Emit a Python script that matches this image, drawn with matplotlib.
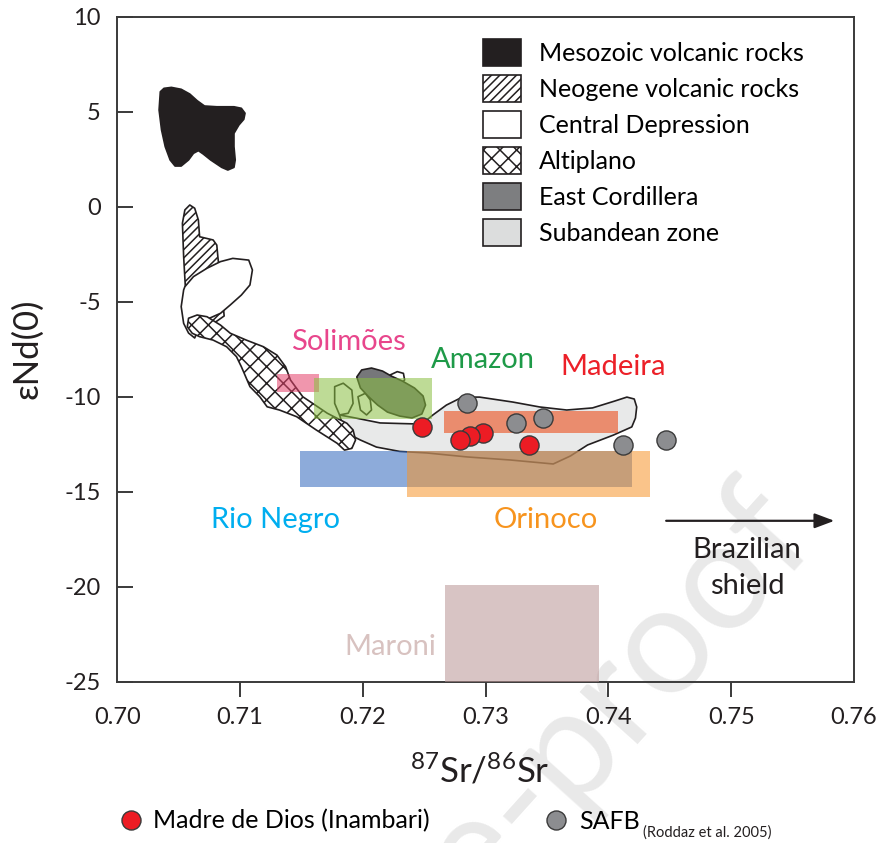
import matplotlib
matplotlib.use("Agg")
import matplotlib.pyplot as plt
from matplotlib.patches import Polygon, Rectangle, Patch
from matplotlib.lines import Line2D

plt.rcParams['font.family'] = ['Lato', 'DejaVu Sans']
plt.rcParams['mathtext.default'] = 'regular'
plt.rcParams['axes.unicode_minus'] = False
plt.rcParams['hatch.linewidth'] = 1.1

INK = '#231f20'

# field outlines as (87Sr/86Sr, eNd(0)) vertices
mesozoic = [(0.7035, 6.05), (0.7038, 6.23), (0.7044, 6.28), (0.7052, 6.18), (0.7059, 5.93),
            (0.7065, 5.58), (0.7071, 5.30), (0.7081, 5.26), (0.7095, 5.26), (0.7101, 5.18),
            (0.7104, 4.92), (0.7103, 4.60), (0.7099, 4.30), (0.7095, 3.86), (0.7095, 3.16),
            (0.7096, 2.46), (0.7095, 2.07), (0.7090, 1.93), (0.7085, 2.07), (0.7076, 2.46),
            (0.7070, 2.77), (0.7066, 2.95), (0.7062, 2.81), (0.7058, 2.46), (0.7052, 2.14),
            (0.7047, 2.14), (0.7043, 2.46), (0.7039, 3.16), (0.7036, 4.04), (0.7034, 5.09)]
neogene = [(0.7059, 0.09), (0.7063, -0.08), (0.7066, -0.70), (0.7067, -1.58), (0.7078, -1.75),
           (0.7081, -2.02), (0.7082, -2.72), (0.7085, -4.38), (0.7087, -5.75), (0.7080, -6.07),
           (0.7063, -5.96), (0.7056, -4.91), (0.7054, -2.63), (0.7053, -0.87), (0.7055, -0.17)]
central_dep = [(0.7055, -4.21), (0.7062, -3.68), (0.7073, -3.24), (0.7084, -2.89), (0.7094, -2.72),
               (0.7107, -2.81), (0.7110, -3.33), (0.7108, -4.12), (0.7101, -4.65), (0.7092, -5.17),
               (0.7084, -5.61), (0.7075, -5.87), (0.7067, -6.28), (0.7063, -6.91), (0.7058, -6.65),
               (0.7054, -6.14), (0.7052, -5.26), (0.7054, -4.38)]
central_dep_small = [
    [(0.7177, -9.47), (0.7184, -9.29), (0.7191, -9.65), (0.7192, -10.35), (0.7188, -10.87),
     (0.7181, -10.96), (0.7177, -10.35)],
    [(0.7196, -10.00), (0.7202, -9.82), (0.7206, -10.17), (0.7207, -10.70), (0.7203, -10.96),
     (0.7198, -10.70)],
    [(0.7222, -8.86), (0.7228, -8.68), (0.7233, -8.77), (0.7234, -9.12), (0.7230, -9.38)],
]
altiplano = [(0.7058, -5.87), (0.7065, -5.70), (0.7073, -5.79), (0.7084, -6.23), (0.7092, -6.66),
             (0.7105, -7.02), (0.7119, -7.37), (0.7130, -7.81), (0.7137, -8.42), (0.7141, -9.12),
             (0.7151, -10.00), (0.7171, -10.87), (0.7187, -11.40), (0.7192, -11.75), (0.7194, -12.28),
             (0.7191, -12.72), (0.7185, -12.81), (0.7179, -12.45), (0.7162, -11.75), (0.7146, -11.05),
             (0.7132, -10.70), (0.7122, -10.53), (0.7116, -10.00), (0.7108, -9.47), (0.7101, -8.42),
             (0.7097, -7.89), (0.7089, -7.37), (0.7078, -7.02), (0.7067, -6.84), (0.7061, -6.66),
             (0.7057, -6.32)]
east_cordillera = [(0.7195, -8.96), (0.7199, -8.59), (0.7207, -8.49), (0.7216, -8.65), (0.7223, -8.91),
                   (0.7232, -9.17), (0.7242, -9.54), (0.7249, -9.96), (0.7251, -10.44), (0.7248, -10.91),
                   (0.7240, -11.12), (0.7230, -11.02), (0.7220, -10.81), (0.7212, -10.44), (0.7204, -9.96),
                   (0.7198, -9.54)]
subandean = [(0.7181, -10.96), (0.7194, -11.12), (0.7214, -11.38), (0.7230, -11.41), (0.7248, -11.44),
             (0.7257, -10.96), (0.7268, -10.44), (0.7281, -10.02), (0.7295, -10.02), (0.7322, -10.28),
             (0.7344, -10.54), (0.7366, -10.70), (0.7387, -10.59), (0.7405, -10.23), (0.7415, -10.02),
             (0.7421, -10.12), (0.7423, -10.54), (0.7422, -11.12), (0.7419, -11.59), (0.7404, -12.02),
             (0.7383, -12.54), (0.7369, -13.12), (0.7355, -13.54), (0.7320, -13.33), (0.7285, -13.17),
             (0.7252, -12.96), (0.7230, -12.88), (0.7211, -12.65), (0.7198, -12.28), (0.7185, -11.86)]

# river sediment ranges
rivers = ['Solimões', 'Amazon', 'Madeira', 'Rio Negro', 'Orinoco', 'Maroni']
river_sr = [(0.7130, 0.7164), (0.7160, 0.7256), (0.7266, 0.7408),
            (0.7149, 0.7419), (0.7236, 0.7434), (0.7267, 0.7392)]
river_nd = [(-9.75, -8.80), (-11.15, -9.03), (-11.93, -10.75),
            (-14.75, -12.86), (-15.28, -12.86), (-25.0, -19.91)]
river_fill = ['#e4406a', '#89bf40', '#ec400a', '#3066bc', '#f6942a', '#b89494']
river_text = ['#e8468c', '#1e9a48', '#ec2028', '#00aeef', '#f7941e', '#d8c2c0']
river_label_sr = [0.7188, 0.7298, 0.7404, 0.7129, 0.7349, 0.7222]
river_label_nd = [-7.54, -8.49, -8.86, -16.91, -16.91, -23.59]

# Madre de Dios (Inambari) and SAFB samples
mdd_sr = [0.7248, 0.7335, 0.7298, 0.7287, 0.7279]
mdd_nd = [-11.58, -12.54, -11.93, -12.07, -12.28]
safb_sr = [0.7285, 0.7325, 0.7347, 0.7412, 0.7447]
safb_nd = [-10.32, -11.40, -11.14, -12.54, -12.28]

FS = 18
TICK_FS = 17

fig = plt.figure(figsize=(8.77, 8.43), dpi=100)
ax = fig.add_axes([0.1338, 0.1913, 0.8400, 0.7889])
ax.patch.set_visible(False)

outline = dict(edgecolor=INK, linewidth=1.2, joinstyle='round')
ax.add_patch(Polygon(mesozoic, closed=True, facecolor=INK, zorder=1, **outline))
ax.add_patch(Polygon(neogene, closed=True, facecolor='white', hatch='////', zorder=1, **outline))
ax.add_patch(Polygon(central_dep, closed=True, facecolor='white', zorder=1.2, **outline))
ax.add_patch(Polygon(subandean, closed=True, facecolor='#e8e9e9', zorder=1.1, **outline))
ax.add_patch(Polygon(altiplano, closed=True, facecolor='white', hatch='xx', zorder=1.3, **outline))
for piece in central_dep_small:
    ax.add_patch(Polygon(piece, closed=True, facecolor='white', zorder=1.4, **outline))
ax.add_patch(Polygon(east_cordillera, closed=True, facecolor='#76777a', zorder=1.5, **outline))

for i, name in enumerate(rivers):
    x0, x1 = river_sr[i]
    y0, y1 = river_nd[i]
    ax.add_patch(Rectangle((x0, y0), x1 - x0, y1 - y0, facecolor=river_fill[i],
                           edgecolor='none', alpha=0.55, zorder=3))
    ax.text(river_label_sr[i], river_label_nd[i], name, color=river_text[i],
            fontsize=21, ha='center', va='baseline', zorder=4)

ax.scatter(safb_sr, safb_nd, s=190, color='#8c8d90', edgecolor='#3a3a3a', linewidth=1.0, zorder=5)
ax.scatter(mdd_sr, mdd_nd, s=190, color='#ec1c24', edgecolor='#3a3a3a', linewidth=1.0, zorder=6)

# Brazilian shield arrow
ax.annotate('', xy=(0.7584, -16.53), xytext=(0.7447, -16.53),
            arrowprops=dict(arrowstyle='-|>,head_length=1.2,head_width=0.45', color=INK, lw=1.6,
                            shrinkA=0, shrinkB=0))
ax.text(0.7513, -18.49, 'Brazilian', fontsize=21, color=INK, ha='center', va='baseline')
ax.text(0.7513, -20.39, 'shield', fontsize=21, color=INK, ha='center', va='baseline')

ax.set_xlim(0.70, 0.76)
ax.set_ylim(-25, 10)
ax.set_xticks([0.70, 0.71, 0.72, 0.73, 0.74, 0.75, 0.76])
ax.set_xticklabels(['0.70', '0.71', '0.72', '0.73', '0.74', '0.75', '0.76'])
ax.set_yticks([10, 5, 0, -5, -10, -15, -20, -25])
ax.tick_params(axis='x', direction='out', length=11, width=1.4, pad=7, labelsize=TICK_FS,
               colors='#3a3a3a', labelcolor=INK)
ax.tick_params(axis='y', direction='in', length=11.5, width=1.4, pad=12, labelsize=TICK_FS,
               colors='#3a3a3a', labelcolor=INK)
xt = ax.xaxis.get_major_ticks()
xt[0].tick1line.set_visible(False)
xt[-1].tick1line.set_visible(False)
for s in ax.spines.values():
    s.set_linewidth(1.4)
    s.set_color('#3a3a3a')

ax.set_xlabel('$^{87}$Sr/$^{86}$Sr', fontsize=25, color=INK, va='top')
ax.xaxis.set_label_coords(0.4923, -0.108)
ax.set_ylabel('εNd(0)', fontsize=25, color=INK)
ax.yaxis.set_label_coords(-0.101, 0.5)

# field legend
field_handles = [
    Patch(facecolor=INK, edgecolor=INK, linewidth=1.2),
    Patch(facecolor='white', edgecolor=INK, hatch='////', linewidth=1.2),
    Patch(facecolor='white', edgecolor=INK, linewidth=1.2),
    Patch(facecolor='white', edgecolor=INK, hatch='xx', linewidth=1.2),
    Patch(facecolor='#7d7e80', edgecolor=INK, linewidth=1.2),
    Patch(facecolor='#dcdddd', edgecolor=INK, linewidth=1.2),
]
field_labels = ['Mesozoic volcanic rocks', 'Neogene volcanic rocks', 'Central Depression',
                'Altiplano', 'East Cordillera', 'Subandean zone']
ax.legend(field_handles, field_labels, loc='upper left', bbox_to_anchor=(0.4964, 0.967),
          frameon=False, fontsize=FS, handlelength=1.5, handleheight=1.3, labelspacing=0.35,
          handletextpad=0.75, borderpad=0, borderaxespad=0)

# sample legend under the plot
mdd_handle = Line2D([], [], ls='', marker='o', ms=13.7, mfc='#ec1c24', mec='#3a3a3a', mew=1.0)
safb_handle = Line2D([], [], ls='', marker='o', ms=13.7, mfc='#8c8d90', mec='#3a3a3a', mew=1.0)
fig.legend([mdd_handle], ['Madre de Dios (Inambari)'], loc='center left',
           bbox_to_anchor=(0.135, 0.026), frameon=False, fontsize=FS, handlelength=1.0,
           handletextpad=0.4, borderpad=0, borderaxespad=0)
fig.legend([safb_handle], ['SAFB'], loc='center left',
           bbox_to_anchor=(0.62, 0.026), frameon=False, fontsize=FS, handlelength=1.0,
           handletextpad=0.4, borderpad=0, borderaxespad=0)
fig.text(0.733, 0.012, '(Roddaz et al. 2005)', fontsize=10.5, color=INK, va='center')

# faint diagonal watermark behind the plot
fig.text(0.644, 0.116, 'Pre-proof', fontsize=110, color='#e9e9e9', rotation=48,
         ha='center', va='center', zorder=-1)

fig.savefig('out.png', dpi=100)
